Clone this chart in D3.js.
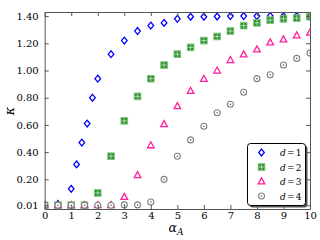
<!DOCTYPE html>
<head>
<meta charset="UTF-8">
<style>
body { margin: 0; background: white; }
text { font-family: "DejaVu Serif", serif; fill: #000; }
</style>
</head>
<svg width="320" height="240"></svg>
<script src="https://d3js.org/d3.v7.min.js"></script>
<script>
// data
var alphaD1 = [0, 0.5, 1, 1.2, 1.4, 1.6, 1.8, 2, 2.5, 3, 3.5, 4, 4.5, 5, 5.5, 6, 6.5, 7, 7.5, 8, 8.5, 9, 9.5, 10];
var kappaD1 = [0.01, 0.02, 0.13, 0.31, 0.47, 0.61, 0.80, 0.94, 1.12, 1.22, 1.29, 1.33, 1.35, 1.38, 1.395, 1.395, 1.397, 1.40, 1.40, 1.40, 1.40, 1.40, 1.40, 1.40];
var alpha = [0, 0.5, 1, 1.5, 2, 2.5, 3, 3.5, 4, 4.5, 5, 5.5, 6, 6.5, 7, 7.5, 8, 8.5, 9, 9.5, 10];
var kappaD2 = [0.01, 0.01, 0.01, 0.01, 0.10, 0.37, 0.63, 0.81, 0.94, 1.04, 1.12, 1.17, 1.22, 1.25, 1.29, 1.33, 1.35, 1.37, 1.38, 1.385, 1.395];
var kappaD3 = [0.01, 0.01, 0.01, 0.01, 0.01, 0.01, 0.07, 0.23, 0.45, 0.605, 0.737, 0.849, 0.937, 0.999, 1.076, 1.118, 1.155, 1.206, 1.228, 1.257, 1.277];
var kappaD4 = [0.01, 0.01, 0.01, 0.01, 0.01, 0.01, 0.012, 0.012, 0.034, 0.20, 0.37, 0.49, 0.59, 0.69, 0.752, 0.84, 0.94, 0.969, 1.04, 1.089, 1.128];
var xTicks = [0, 1, 2, 3, 4, 5, 6, 7, 8, 9, 10];
var yTicks = [0.01, 0.2, 0.4, 0.6, 0.8, 1.0, 1.2, 1.4];
var legendLabels = ["1", "2", "3", "4"];

var svg = d3.select("svg");
var L = 44.7, R = 310, T = 12, B = 209;

var x = d3.scaleLinear().domain([0, 10]).range([L, R]);
var y = d3.scaleLinear().domain([-0.018, 1.43]).range([B, T]);

svg.append("clipPath").attr("id", "clip")
    .append("rect").attr("x", L).attr("y", T).attr("width", R - L).attr("height", B - T);

// marker drawers
function diamond(g) {
    g.append("path").attr("d", "M0,-3.4L2.8,0L0,3.4L-2.8,0Z")
        .attr("fill", "white").attr("stroke", "#0000ff").attr("stroke-width", 1.3);
}
function square(g) {
    g.append("rect").attr("x", -3.3).attr("y", -3.3).attr("width", 6.6).attr("height", 6.6)
        .attr("fill", "#2f8f2f").attr("stroke", "#7cc47c").attr("stroke-width", 1);
    g.append("path").attr("d", "M-2.5,0H2.5M0,-2.5V2.5")
        .attr("stroke", "#c8eac8").attr("stroke-width", 0.8);
}
function triangle(g) {
    g.append("path").attr("d", "M0,-3.6L3.3,2.4L-3.3,2.4Z")
        .attr("fill", "white").attr("stroke", "#ff1f9e").attr("stroke-width", 1.3);
}
function odot(g) {
    g.append("circle").attr("r", 3).attr("fill", "white").attr("stroke", "#808080").attr("stroke-width", 1.1);
    g.append("circle").attr("r", 0.8).attr("fill", "#606060");
}

var series = [
    { xs: alphaD1, ys: kappaD1, draw: diamond },
    { xs: alpha, ys: kappaD2, draw: square },
    { xs: alpha, ys: kappaD3, draw: triangle },
    { xs: alpha, ys: kappaD4, draw: odot }
];

var plot = svg.append("g").attr("clip-path", "url(#clip)");
series.forEach(function(s) {
    var pts = s.xs.map(function(v, i) { return [v, s.ys[i]]; });
    plot.selectAll(null)
        .data(pts)
        .enter().append("g")
        .attr("transform", function(d) { return "translate(" + x(d[0]) + "," + y(d[1]) + ")"; })
        .each(function() { s.draw(d3.select(this)); });
});

// axes with inward ticks on all sides
var fmt = d3.format(".2f");
var xb = svg.append("g").attr("transform", "translate(0," + B + ")")
    .call(d3.axisBottom(x).tickValues(xTicks).tickSizeInner(-4).tickSizeOuter(0).tickPadding(3).tickFormat(d3.format("d")));
var xt = svg.append("g").attr("transform", "translate(0," + T + ")")
    .call(d3.axisTop(x).tickValues(xTicks).tickSizeInner(-4).tickSizeOuter(0).tickFormat(""));
var yl = svg.append("g").attr("transform", "translate(" + L + ",0)")
    .call(d3.axisLeft(y).tickValues(yTicks).tickSizeInner(-4).tickSizeOuter(0).tickPadding(6).tickFormat(fmt));
var yr = svg.append("g").attr("transform", "translate(" + R + ",0)")
    .call(d3.axisRight(y).tickValues(yTicks).tickSizeInner(-4).tickSizeOuter(0).tickFormat(""));

[xb, xt, yl, yr].forEach(function(a) {
    a.selectAll(".domain").attr("stroke", "#555");
    a.selectAll(".tick line").attr("stroke", "#555");
    a.selectAll("text").attr("font-family", "DejaVu Serif").attr("font-size", 10).attr("fill", "#000");
});

// axis labels
svg.append("text")
    .attr("transform", "translate(14,111) rotate(-90)")
    .attr("text-anchor", "middle")
    .attr("font-size", 13).attr("font-style", "italic")
    .text("κ");
var xl = svg.append("text").attr("x", 176).attr("y", 232).attr("text-anchor", "middle")
    .attr("font-size", 12.5).attr("font-style", "italic");
xl.append("tspan").text("α");
xl.append("tspan").attr("font-size", 9).attr("dy", 3).text("A");

// legend
var lg = svg.append("g");
lg.append("rect").attr("x", 249.5).attr("y", 145.5).attr("width", 58).attr("height", 62).attr("rx", 3)
    .attr("fill", "#555");
lg.append("rect").attr("x", 247.5).attr("y", 143.5).attr("width", 58).attr("height", 62).attr("rx", 3)
    .attr("fill", "white").attr("stroke", "#000").attr("stroke-width", 1);
var rowY = d3.scaleLinear().domain([0, 3]).range([152.5, 196]);
legendLabels.forEach(function(lab, i) {
    var gg = lg.append("g").attr("transform", "translate(261.5," + rowY(i) + ")");
    series[i].draw(gg);
    var t = lg.append("text").attr("x", 280).attr("y", rowY(i) + 3.5).attr("font-size", 9);
    t.append("tspan").attr("font-style", "italic").text("d");
    t.append("tspan").attr("dx", 1.2).text("=");
    t.append("tspan").attr("dx", 1.2).text(lab);
});
</script>
